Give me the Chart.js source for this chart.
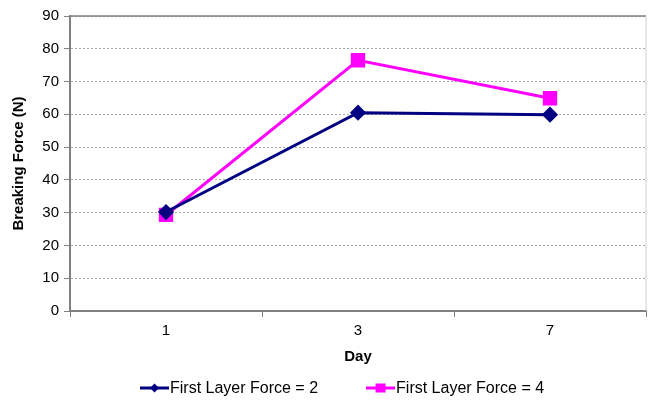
<!DOCTYPE html>
<html><head><meta charset="utf-8">
<script src="https://cdn.jsdelivr.net/npm/chart.js@4/dist/chart.umd.min.js"></script>
<style>html,body{margin:0;padding:0;background:#fff}#wrap{width:649px;height:404px}</style>
</head><body><div id="wrap"><canvas id="c" width="649" height="404"></canvas></div>
<script>
const days = ['1', '3', '7'];
const force2 = [30.2, 60.5, 59.9];
const force4 = [29.3, 76.5, 64.9];
const yTicks = [0, 10, 20, 30, 40, 50, 60, 70, 80, 90];
const seriesNames = ['First Layer Force = 2', 'First Layer Force = 4'];
const seriesColors = ['#000080', '#FF00FF'];

const FONT = '"Liberation Sans", Arial, sans-serif';
Chart.defaults.font.family = FONT;
Chart.defaults.color = '#000';

const legendPlugin = {
  id: 'customLegend',
  afterDraw(chart) {
    const ctx = chart.ctx;
    ctx.save();
    ctx.font = '16px ' + FONT;
    ctx.textBaseline = 'middle';
    const y = 388;
    let x = 140;
    seriesNames.forEach((name, i) => {
      const c = seriesColors[i];
      ctx.strokeStyle = c; ctx.fillStyle = c; ctx.lineWidth = 3;
      ctx.beginPath(); ctx.moveTo(x, y); ctx.lineTo(x + 29, y); ctx.stroke();
      const cx = x + 14.5;
      if (i === 0) {
        ctx.beginPath(); ctx.moveTo(cx, y - 4.5); ctx.lineTo(cx + 4.5, y); ctx.lineTo(cx, y + 4.5); ctx.lineTo(cx - 4.5, y); ctx.closePath(); ctx.fill();
      } else {
        ctx.fillRect(cx - 5, y - 4.5, 10, 9);
      }
      ctx.fillStyle = '#000';
      ctx.fillText(name, x + 30, y + 1);
      x += 30 + ctx.measureText(name).width + 48;
    });
    ctx.restore();
  }
};

const framePlugin = {
  id: 'frame',
  beforeDatasetsDraw(chart) {
    const { ctx, chartArea: a } = chart;
    ctx.save();
    ctx.strokeStyle = '#808080'; ctx.lineWidth = 1.5;
    ctx.beginPath(); ctx.moveTo(a.left, a.top); ctx.lineTo(a.right, a.top); ctx.stroke();
    ctx.strokeStyle = '#d0d0d0'; ctx.lineWidth = 1;
    ctx.beginPath(); ctx.moveTo(a.right, a.top); ctx.lineTo(a.right, a.bottom); ctx.stroke();
    ctx.restore();
  }
};

new Chart(document.getElementById('c'), {
  type: 'line',
  data: {
    labels: days,
    datasets: [
      { label: seriesNames[0], data: force2, borderColor: seriesColors[0], backgroundColor: seriesColors[0],
        borderWidth: 3, pointStyle: 'rectRot', pointRadius: 6, pointHoverRadius: 6, tension: 0 },
      { label: seriesNames[1], data: force4, borderColor: seriesColors[1], backgroundColor: seriesColors[1],
        borderWidth: 3, pointStyle: 'rect', pointRadius: 8, pointHoverRadius: 8, tension: 0 }
    ]
  },
  options: {
    responsive: false,
    animation: false,
    layout: { autoPadding: false, padding: { left: 0, right: 3, top: 16, bottom: 32 } },
    plugins: { tooltip: { enabled: false }, legend: { display: false } },
    scales: {
      x: {
        offset: true,
        afterFit: (s) => { s.height = 61; s.paddingLeft = 0; s.paddingRight = 0; },
        grid: { display: true, offset: true, drawOnChartArea: false, drawTicks: true, tickLength: 6, color: '#808080', lineWidth: 1 },
        border: { color: '#808080', width: 2 },
        ticks: { font: { size: 15 }, padding: 5 },
        title: { display: true, text: 'Day', font: { size: 15, weight: 'bold' }, padding: { top: 0, bottom: 6 } }
      },
      y: {
        min: 0, max: 90,
        afterFit: (s) => { s.width = 70; },
        afterBuildTicks: (s) => { s.ticks = yTicks.map(v => ({ value: v })); },
        grid: { color: '#a8a8a8', lineWidth: 1, tickLength: 6, drawTicks: true, tickColor: '#808080' },
        border: { color: '#808080', width: 2, dash: [2, 2] },
        ticks: { font: { size: 15 }, padding: 5 },
        title: { display: true, text: 'Breaking Force (N)', font: { size: 15, weight: 'bold' }, padding: { top: 10, bottom: 0 } }
      }
    }
  },
  plugins: [framePlugin, legendPlugin]
});
</script></body></html>
